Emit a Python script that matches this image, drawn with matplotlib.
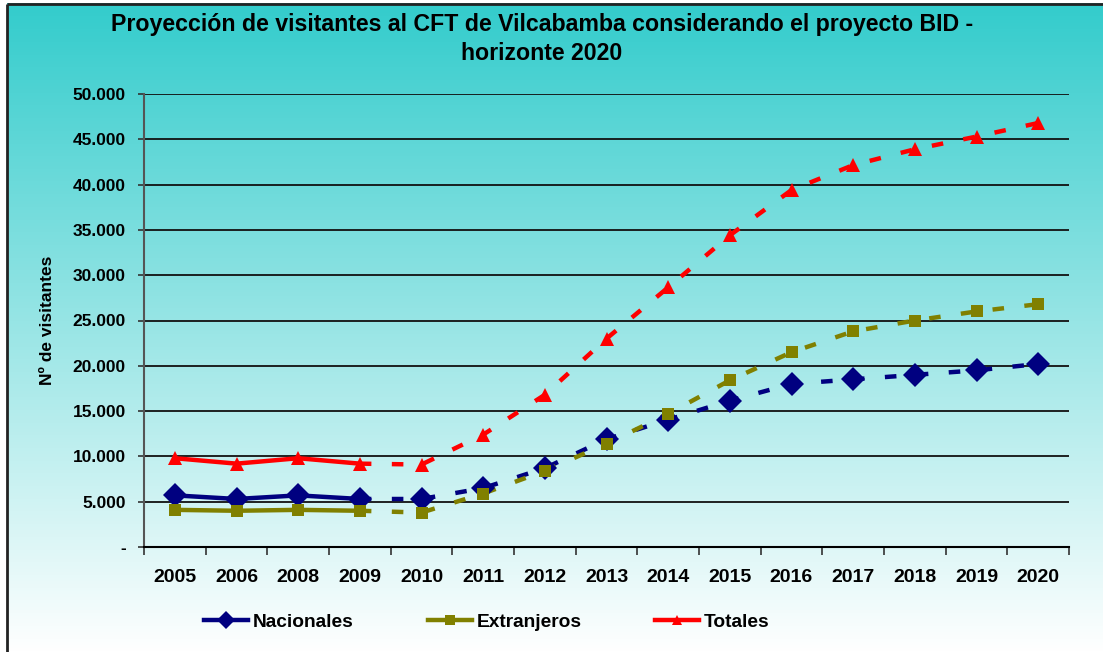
import numpy as np
import matplotlib
matplotlib.use("Agg")
import matplotlib.pyplot as plt
from matplotlib.lines import Line2D
from matplotlib.ticker import FuncFormatter, FixedLocator

plt.rcParams['font.family'] = ['Liberation Sans', 'DejaVu Sans']

# Data
years = ["2005", "2006", "2008", "2009", "2010", "2011", "2012", "2013",
         "2014", "2015", "2016", "2017", "2018", "2019", "2020"]
nacionales = [5700, 5300, 5700, 5300, 5300, 6500, 8700, 11900, 14050,
              16150, 18000, 18500, 19000, 19500, 20200]
extranjeros = [4100, 4000, 4100, 4000, 3800, 5900, 8400, 11400, 14700,
               18400, 21500, 23800, 25000, 26000, 26800]
totales = [9800, 9200, 9800, 9200, 9100, 12400, 16800, 23000, 28650,
           34400, 39400, 42150, 43900, 45300, 46800]
series_names = ["Nacionales", "Extranjeros", "Totales"]
last_observed = 3  # index of 2009: later years are projections

W, H, DPI = 1103, 652, 100
fig = plt.figure(figsize=(W / DPI, H / DPI), dpi=DPI)
fig.patch.set_facecolor("white")

# Gradient background of the chart area (teal at top fading to white)
bg = fig.add_axes([0, 0, 1, 1], zorder=-10)
grad = np.linspace(0, 1, 400)[:, None]
top = np.array([0x33, 0xCC, 0xCC]) / 255.0
bot = np.array([1.0, 1.0, 1.0])
img = top[None, None, :] * (1 - grad[:, :, None]) + bot[None, None, :] * grad[:, :, None]
x0f, y1f = 7 / W, 1 - 3.5 / H
bg.imshow(img, extent=[x0f, 1, 0, y1f], aspect="auto", origin="upper")
bg.set_xlim(0, 1)
bg.set_ylim(0, 1)
bg.plot([x0f, 1], [y1f, y1f], color="#222222", lw=2, solid_capstyle="butt")
bg.plot([x0f, x0f], [0, y1f], color="#222222", lw=2, solid_capstyle="butt")
bg.axis("off")

left, right, top_px, bottom_px = 144, 1069, 94, 547
ax = fig.add_axes([left / W, 1 - bottom_px / H, (right - left) / W, (bottom_px - top_px) / H])
ax.patch.set_alpha(0)

x = np.arange(len(years))
styles = [
    (nacionales, "#000080", "D", 12),
    (extranjeros, "#808000", "s", 9),
    (totales, "#FF0000", "^", 10),
]
lw = 3.2
for vals, color, marker, ms in styles:
    vals = np.asarray(vals)
    # observed years: solid line
    ax.plot(x[:last_observed + 1], vals[:last_observed + 1], color=color, lw=lw,
            marker=marker, markersize=ms, markeredgewidth=0, zorder=3,
            solid_capstyle="butt")
    # projected years: dashed line
    ax.plot(x[last_observed:], vals[last_observed:], color=color, lw=lw,
            linestyle=(0, (2.6, 4.6)), marker=None, zorder=3,
            dash_capstyle="butt")
    ax.plot(x[last_observed + 1:], vals[last_observed + 1:], linestyle="none",
            color=color, marker=marker, markersize=ms, markeredgewidth=0, zorder=4)

ax.set_xlim(-0.5, len(years) - 0.5)
ax.set_ylim(0, 50000)
ax.set_yticks(np.arange(0, 50001, 5000))
ax.yaxis.set_major_formatter(FuncFormatter(
    lambda v, p: "-" if v == 0 else f"{int(v):,}".replace(",", ".")))
ax.grid(axis="y", color="#111111", lw=1.3)
ax.set_axisbelow(True)

ax.set_xticks(x)
ax.set_xticklabels(years)
ax.xaxis.set_minor_locator(FixedLocator(np.arange(-0.5, len(years), 1.0)))
ax.tick_params(axis="x", which="major", length=0, pad=16, labelsize=14)
ax.tick_params(axis="x", which="minor", length=6, width=1.2, color="#333333", direction="out")
ax.tick_params(axis="y", length=4, width=1.2, color="#333333", pad=9, labelsize=12.5)
for lab in ax.get_xticklabels() + ax.get_yticklabels():
    lab.set_fontweight("bold")

for s in ["top", "right"]:
    ax.spines[s].set_visible(False)
ax.spines["left"].set_color("#555555")
ax.spines["left"].set_linewidth(1.5)
ax.spines["bottom"].set_color("#000000")
ax.spines["bottom"].set_linewidth(1.5)

ax.set_ylabel("Nº de visitantes", fontsize=12.5, fontweight="bold")
ax.yaxis.set_label_coords(-(left - 55) / (right - left), 0.5)

fig.text(542 / W, 1 - 25 / H,
         "Proyección de visitantes al CFT de Vilcabamba considerando el proyecto BID -",
         ha="center", va="center", fontsize=16.7, fontweight="bold")
fig.text(542 / W, 1 - 54 / H, "horizonte 2020",
         ha="center", va="center", fontsize=16.7, fontweight="bold")

handles = [Line2D([0], [0], color=c, lw=lw, marker=m, markersize=ms * 0.75,
                  markeredgewidth=0) for _, c, m, ms in styles]
fig.legend(handles, series_names, ncol=3, loc="center",
           bbox_to_anchor=(487 / W, 1 - 622 / H), frameon=False,
           handlelength=2.3, handletextpad=0.25, columnspacing=3.85,
           prop={"weight": "bold", "size": 13.8})

fig.savefig("out.png", dpi=DPI)
